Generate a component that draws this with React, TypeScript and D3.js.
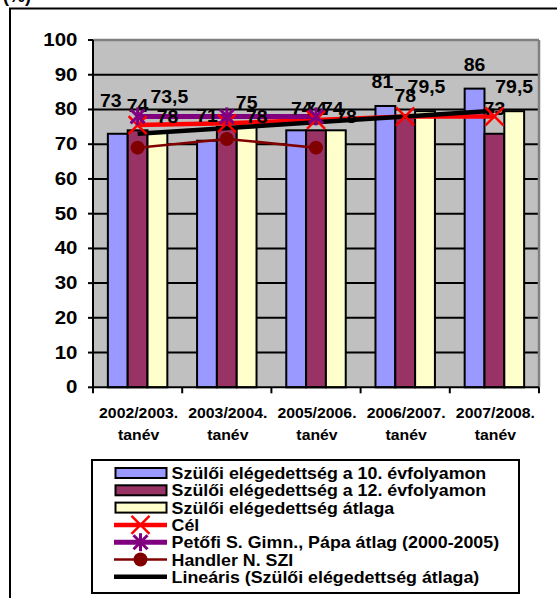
import React from "react";
import * as d3 from "d3";

const categories = ["2002/2003.", "2003/2004.", "2005/2006.", "2006/2007.", "2007/2008."];
const categorySuffix = "tanév";
const grade10 = [73, 71, 74, 81, 86];
const grade12 = [74, 75, 74, 78, 73];
const average = [73.5, 75, 74, 79.5, 79.5];
const target = [75.5, 76, 77, 78, 78];
const petofi: (number | null)[] = [78, 78, 78, null, null];
const handler: (number | null)[] = [69, 71.5, 69, null, null];
const yTicks = [0, 10, 20, 30, 40, 50, 60, 70, 80, 90, 100];

const legendItems = [
  "Szülői elégedettség a 10. évfolyamon",
  "Szülői elégedettség a 12. évfolyamon",
  "Szülői elégedettség átlaga",
  "Cél",
  "Petőfi S. Gimn., Pápa átlag (2000-2005)",
  "Handler N. SZI",
  "Lineáris (Szülői elégedettség átlaga)",
];

// manual label nudges (as in the original, labels were dragged)
const nudge10: ([number, number] | null)[] = [[-7, -9], [0, -1], [5.5, 3], [-3, 0], [0, 0]];
const nudge12: ([number, number] | null)[] = [[0, 0], null, [0, 3], [0, 3.5], [0, -1]];
const nudgeAvg: ([number, number] | null)[] = [[12, -11], [0, 0], [-3, 3], [1.5, 0], [0, 0]];

const FONT = "'Liberation Sans', Arial, Helvetica, sans-serif";
const C_BLUE = "#9999FF";
const C_MAROON = "#993366";
const C_YELLOW = "#FFFFCC";
const C_RED = "#FF0000";
const C_PURPLE = "#800080";
const C_DARKRED = "#800000";

const fmt = (v: number) => String(v).replace(".", ",");

function Txt(props: {
  x: number; y: number; sx?: number; size: number; bold?: boolean;
  anchor?: "start" | "middle" | "end"; children: React.ReactNode; fill?: string;
}) {
  const { x, y, sx = 1, size, bold, anchor = "start", children, fill = "#000" } = props;
  return (
    <text
      transform={`translate(${x},${y}) scale(${sx},1)`}
      fontFamily={FONT}
      fontSize={size}
      fontWeight={bold ? "bold" : "normal"}
      textAnchor={anchor}
      fill={fill}
    >
      {children}
    </text>
  );
}

function XMarker({ cx, cy }: { cx: number; cy: number }) {
  const h = 9;
  return (
    <g stroke={C_RED} strokeWidth={2.5}>
      <line x1={cx - h} y1={cy - h} x2={cx + h} y2={cy + h} />
      <line x1={cx - h} y1={cy + h} x2={cx + h} y2={cy - h} />
    </g>
  );
}

function StarMarker({ cx, cy }: { cx: number; cy: number }) {
  const h = 7;
  return (
    <g stroke={C_PURPLE} strokeWidth={3}>
      <line x1={cx - h} y1={cy - h} x2={cx + h} y2={cy + h} />
      <line x1={cx - h} y1={cy + h} x2={cx + h} y2={cy - h} />
      <line x1={cx} y1={cy - h - 2} x2={cx} y2={cy + h + 2} />
    </g>
  );
}

export default function App() {
  const left = 93, right = 539, top = 40, bottom = 387.3;
  const x0 = d3.scaleBand<string>().domain(categories).range([left, right])
    .paddingInner(1.5 / 4.5).paddingOuter(0.75 / 4.5);
  const x1 = d3.scaleBand<number>().domain([0, 1, 2]).range([0, x0.bandwidth()]);
  const y = d3.scaleLinear().domain([0, 100]).range([bottom, top]);
  const cx = (i: number) => (x0(categories[i]) as number) + x0.bandwidth() / 2;
  const step = x0.step();

  const series = [
    { values: grade10, color: C_BLUE, nudge: nudge10 },
    { values: grade12, color: C_MAROON, nudge: nudge12 },
    { values: average, color: C_YELLOW, nudge: nudgeAvg },
  ];

  const line = d3.line<number | null>()
    .defined((d) => d != null)
    .x((_, i) => cx(i))
    .y((d) => y(d as number));

  // linear trendline of average
  const n = average.length;
  const xs = average.map((_, i) => i + 1);
  const mx = d3.mean(xs) as number;
  const my = d3.mean(average) as number;
  const slope = d3.sum(xs.map((xv, i) => (xv - mx) * (average[i] - my))) / d3.sum(xs.map((xv) => (xv - mx) ** 2));
  const icpt = my - slope * mx;
  const t0 = icpt + slope * 1;
  const t1 = icpt + slope * n;

  const legX = 92, legY = 460, legW = 427, legH = 133;
  const rowY0 = 473, rowStep = 17.3;

  return (
    <svg width={557} height={598} style={{ position: "absolute", left: 0, top: 0, display: "block" }}>
      <rect x={0} y={0} width={557} height={598} fill="#fff" />
      <rect x={10} y={8.5} width={700} height={700} fill="#fff" stroke="#000" strokeWidth={2} />
      <Txt x={3} y={2} size={18} bold>(%)</Txt>

      {/* plot area */}
      <rect x={left} y={top} width={right - left} height={bottom - top} fill="#C0C0C0" />
      {yTicks.filter((t) => t > 0 && t < 100).map((t) => (
        <line key={t} x1={left} x2={right} y1={y(t)} y2={y(t)} stroke="#000" strokeWidth={2} />
      ))}
      <line x1={left} x2={right} y1={y(100)} y2={y(100)} stroke="#808080" strokeWidth={2.5} />
      <line x1={right} x2={right} y1={top} y2={bottom} stroke="#808080" strokeWidth={2.5} />

      {/* bars */}
      {series.map((s, si) =>
        s.values.map((v, i) => (
          <rect
            key={`b${si}-${i}`}
            x={(x0(categories[i]) as number) + (x1(si) as number)}
            y={y(v)}
            width={x1.bandwidth()}
            height={bottom - y(v)}
            fill={s.color}
            stroke="#000"
            strokeWidth={2}
          />
        ))
      )}

      {/* axes */}
      <line x1={left} x2={left} y1={top} y2={bottom} stroke="#000" strokeWidth={2} />
      <line x1={left} x2={right} y1={bottom} y2={bottom} stroke="#000" strokeWidth={2} />
      {yTicks.map((t) => (
        <line key={`yt${t}`} x1={left - 5} x2={left} y1={y(t)} y2={y(t)} stroke="#000" strokeWidth={2} />
      ))}
      {d3.range(categories.length + 1).map((k) => (
        <line key={`xt${k}`} x1={left + k * step} x2={left + k * step} y1={bottom} y2={bottom + 6} stroke="#000" strokeWidth={2} />
      ))}

      {/* lines */}
      <path d={line(target) as string} fill="none" stroke={C_RED} strokeWidth={4.5} />
      <path d={line(petofi) as string} fill="none" stroke={C_PURPLE} strokeWidth={5} />
      <path d={line(handler) as string} fill="none" stroke={C_DARKRED} strokeWidth={2.5} />
      <line x1={cx(0)} x2={cx(n - 1)} y1={y(t0)} y2={y(t1)} stroke="#000" strokeWidth={4.5} />

      {/* bar labels */}
      {series.map((s, si) =>
        s.values.map((v, i) => {
          const nd = s.nudge[i];
          if (!nd) return null;
          const bx = (x0(categories[i]) as number) + (x1(si) as number) + x1.bandwidth() / 2;
          return (
            <Txt key={`l${si}-${i}`} x={bx + nd[0]} y={y(v) - 18 + nd[1]} size={18} sx={1.08} bold anchor="middle">
              {fmt(v)}
            </Txt>
          );
        })
      )}

      {/* markers */}
      {target.map((v, i) => <XMarker key={`xm${i}`} cx={cx(i)} cy={y(v)} />)}
      {petofi.map((v, i) => (v == null ? null : <StarMarker key={`sm${i}`} cx={cx(i)} cy={y(v)} />))}
      {handler.map((v, i) => (v == null ? null : <circle key={`hm${i}`} cx={cx(i)} cy={y(v)} r={7} fill={C_DARKRED} />))}
      {petofi.map((v, i) => (v == null ? null : (
        <Txt key={`pl${i}`} x={cx(i) + 30} y={y(v) + 6.5} size={18} sx={1.08} bold anchor="middle">{fmt(v)}</Txt>
      )))}

      {/* tick labels */}
      {yTicks.map((t) => (
        <Txt key={`yl${t}`} x={77.5} y={y(t) + 6} size={17.5} sx={1.17} bold anchor="end">{t}</Txt>
      ))}
      {categories.map((c, i) => (
        <g key={`xl${i}`}>
          <Txt x={cx(i) + 1} y={417.7} size={14} sx={1.13} bold anchor="middle">{c}</Txt>
          <Txt x={cx(i) + 1} y={440} size={14} sx={1.13} bold anchor="middle">{categorySuffix}</Txt>
        </g>
      ))}

      {/* legend */}
      <rect x={legX} y={legY} width={legW} height={legH} fill="#fff" stroke="#000" strokeWidth={2} />
      {legendItems.map((label, k) => {
        const ry = rowY0 + k * rowStep;
        let sw: React.ReactNode = null;
        if (k < 3) {
          sw = <rect x={115.5} y={ry - 5} width={51} height={10} fill={series[k].color} stroke="#000" strokeWidth={2} />;
        } else if (k === 3) {
          sw = <g><line x1={114} x2={167} y1={ry} y2={ry} stroke={C_RED} strokeWidth={4.5} /><XMarker cx={140.5} cy={ry} /></g>;
        } else if (k === 4) {
          sw = <g><line x1={114} x2={167} y1={ry} y2={ry} stroke={C_PURPLE} strokeWidth={5} /><StarMarker cx={140.5} cy={ry} /></g>;
        } else if (k === 5) {
          sw = <g><line x1={114} x2={167} y1={ry} y2={ry} stroke={C_DARKRED} strokeWidth={2.5} /><circle cx={140.5} cy={ry} r={7} fill={C_DARKRED} /></g>;
        } else {
          sw = <line x1={114} x2={167} y1={ry} y2={ry} stroke="#000" strokeWidth={4.5} />;
        }
        return (
          <g key={`lg${k}`}>
            {sw}
            <Txt x={171.6} y={ry + 6} size={16.5} sx={1.08} bold>{label}</Txt>
          </g>
        );
      })}
    </svg>
  );
}
